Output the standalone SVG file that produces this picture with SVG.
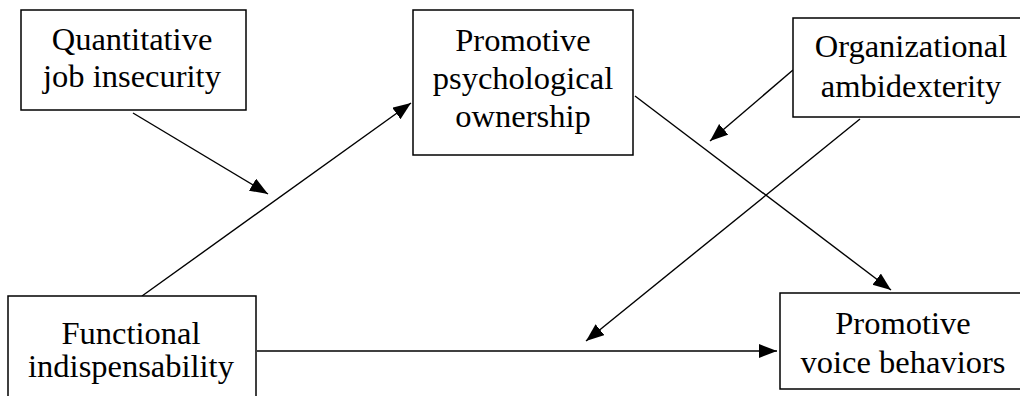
<svg xmlns="http://www.w3.org/2000/svg" width="1020" height="396" viewBox="0 0 1020 396">
<style>
.box{fill:#fff;stroke:#000;stroke-width:1.5}
.lbl{font-family:"Liberation Serif","Times New Roman",serif;font-size:32.5px;fill:#000;text-anchor:middle}
.edge{stroke:#000;stroke-width:1.4;fill:none;marker-end:url(#ah)}
</style>
<defs>
<marker id="ah" markerUnits="userSpaceOnUse" markerWidth="19" markerHeight="15" refX="18" refY="7" orient="auto">
<path d="M0,0 L18,7 L0,14 z" fill="#000"/>
</marker>
</defs>
<rect width="1020" height="396" fill="#fff"/>
<g id="connectors">
<line class="edge" x1="133" y1="113" x2="268" y2="194"/>
<line class="edge" x1="142" y1="296" x2="411" y2="103"/>
<line class="edge" x1="635" y1="96" x2="891" y2="290"/>
<line class="edge" x1="793" y1="70" x2="710" y2="141"/>
<line class="edge" x1="860" y1="119" x2="586" y2="341"/>
<line class="edge" x1="257" y1="351" x2="777" y2="351"/>
</g>
<g id="quantitative">
<rect class="box" x="21" y="10" width="225" height="100"/>
<text class="lbl" x="132" y="50">Quantitative</text>
<text class="lbl" x="132" y="87">job insecurity</text>
</g>
<g id="ownership">
<rect class="box" x="413" y="10" width="220" height="145"/>
<text class="lbl" x="523" y="51">Promotive</text>
<text class="lbl" x="523" y="89">psychological</text>
<text class="lbl" x="523" y="127">ownership</text>
</g>
<g id="ambidexterity">
<rect class="box" x="793" y="18" width="240" height="99"/>
<text class="lbl" x="911" y="57">Organizational</text>
<text class="lbl" x="911" y="97">ambidexterity</text>
</g>
<g id="functional">
<rect class="box" x="8" y="296" width="248" height="110"/>
<text class="lbl" x="131" y="344">Functional</text>
<text class="lbl" x="131" y="377">indispensability</text>
</g>
<g id="voice">
<rect class="box" x="780" y="293" width="250" height="96"/>
<text class="lbl" x="903" y="334">Promotive</text>
<text class="lbl" x="903" y="373">voice behaviors</text>
</g>
</svg>
